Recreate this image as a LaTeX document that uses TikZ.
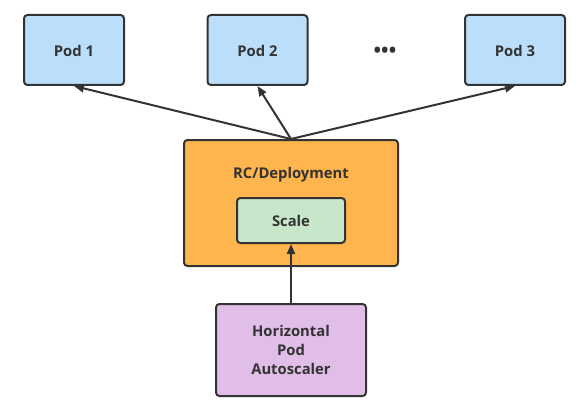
\documentclass[tikz,border=0pt]{standalone}
\usepackage{fontspec}
\setmainfont{Open Sans}
\usetikzlibrary{arrows.meta}
\definecolor{podblue}{HTML}{BBDEFA}
\definecolor{rcorange}{HTML}{FFB54D}
\definecolor{scgreen}{HTML}{C8E6CA}
\definecolor{hpapurple}{HTML}{E1BEE7}
\definecolor{edge}{HTML}{333333}
\begin{document}
\begin{tikzpicture}[x=1pt,y=-1pt,
  lbl/.style={font=\fontsize{14.8}{19}\selectfont\bfseries,text=edge,align=center},
  box/.style={lbl,draw=edge,line width=2pt,rounded corners=3.5pt,inner sep=0pt},
  pod/.style={box,fill=podblue,minimum width=100pt,minimum height=70pt,text depth=0pt,text height=14pt},
  arr/.style={draw=edge,line width=2pt,-{Triangle[length=10pt,width=8pt]}}]
\useasboundingbox (0,0) rectangle (579,404);
\node[pod] (p1) at (74,50) {Pod 1};
\node[pod] (p2) at (257.5,50) {Pod 2};
\node[pod] (p3) at (515,50) {Pod 3};
\node[lbl,font=\fontsize{20}{20}\selectfont\bfseries] (dots) at (385,52) {•••};
\node[box,fill=rcorange,minimum width=214pt,minimum height=126pt] (rc) at (291,203) {};
\node[lbl] (rcl) at (291,175) {RC/Deployment};
\node[box,fill=scgreen,minimum width=108pt,minimum height=45pt] (sc) at (291,220.5) {Scale};
\node[box,fill=hpapurple,minimum width=150pt,minimum height=92pt] (hpa) at (291,350) {Horizontal\\Pod\\Autoscaler};
\draw[arr] (rc.north) -- (p1.south);
\draw[arr] (rc.north) -- (p2.south);
\draw[arr] (rc.north) -- (p3.south);
\draw[arr] (hpa.north) -- (sc.south);
\end{tikzpicture}
\end{document}
